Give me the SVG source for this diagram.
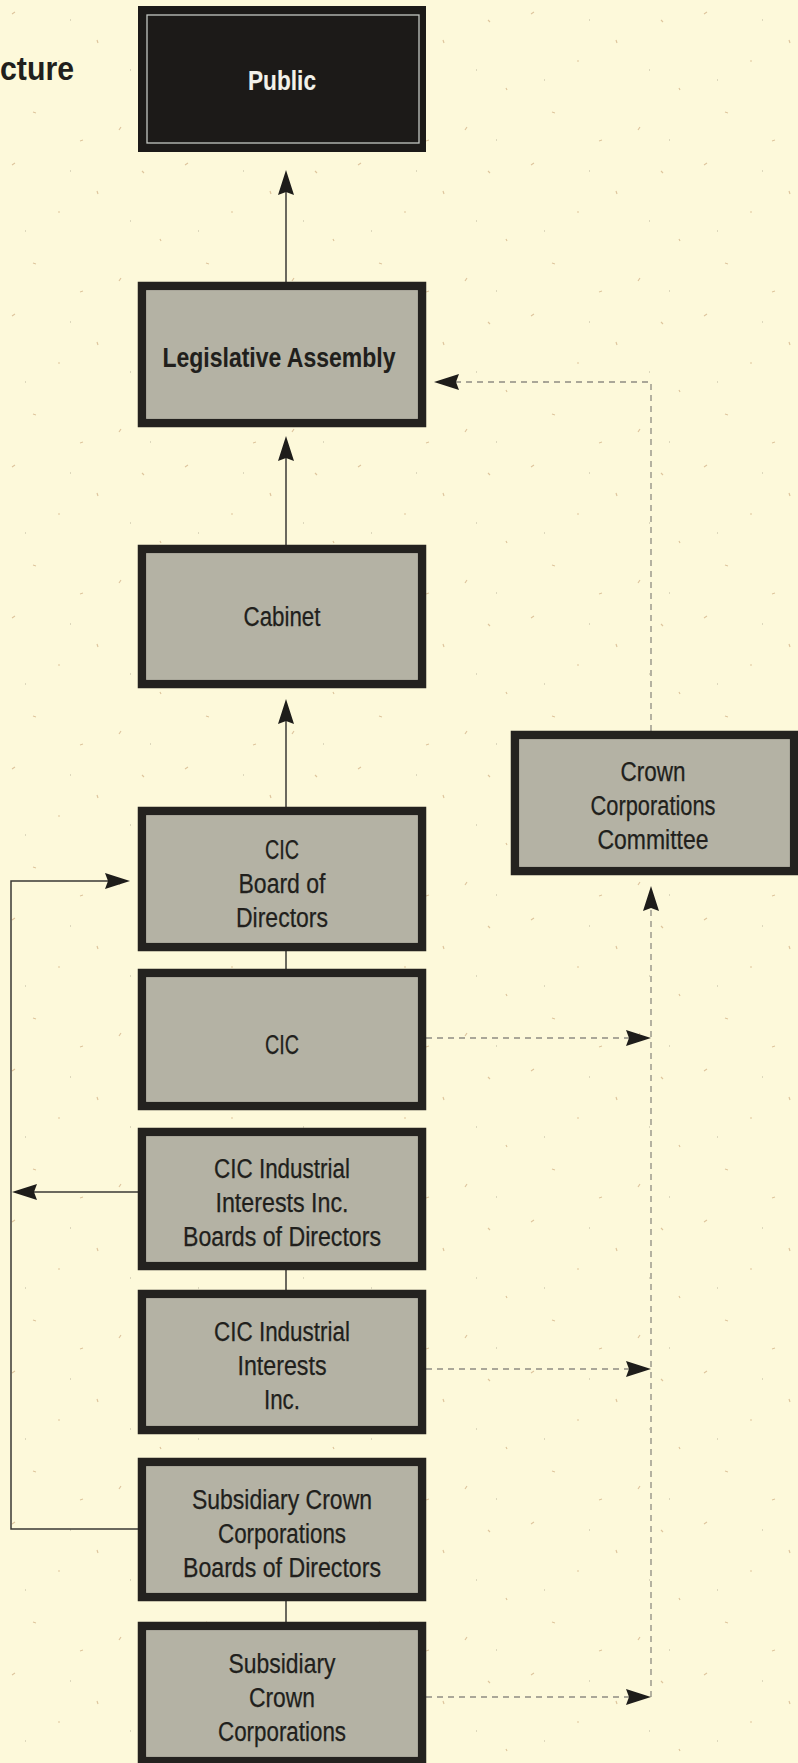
<svg xmlns="http://www.w3.org/2000/svg" width="798" height="1763" viewBox="0 0 798 1763">
  <defs>
    <style>
      .box { fill: #b4b2a4; stroke: #24221f; stroke-width: 8.5; }
      .edge { fill: none; stroke: #d6d4c6; stroke-width: 1; opacity: 0.35; }
      .lbl { font-family: "Liberation Sans Narrow", "Liberation Sans", Arial, sans-serif; font-size: 27px; fill: #211f1c; stroke: #211f1c; stroke-width: 0.25; text-anchor: middle; }
      .b { font-weight: bold; stroke-width: 0.1; }
      .solid { fill: none; stroke: #3a3935; stroke-width: 1.5; }
      .dash { fill: none; stroke: #8e8c82; stroke-width: 1.3; stroke-dasharray: 6 5; }
    </style>
    <marker id="arrow" viewBox="0 0 25 16" refX="21" refY="8" markerWidth="25" markerHeight="16" markerUnits="userSpaceOnUse" orient="auto">
      <path d="M0,0 L25,8 L0,16 L3,8 z" fill="#1e1d1a"/>
    </marker>
    <pattern id="paper" width="173" height="151" patternUnits="userSpaceOnUse">
      <path d="M12,14 l3,-2 M97,40 l1,3 M33,112 l3,1 M142,20 l2,2 M121,127 l-2,3 M58,61 l2,0 M160,88 l1,2 M80,141 l3,-1" stroke="#c9a274" stroke-width="1.2" opacity="0.6"/>
      <path d="M25,80 h1 M130,70 h1 M70,20 h1 M150,140 h1" stroke="#8f8a78" stroke-width="1.4" opacity="0.4"/>
    </pattern>
  </defs>

  <!-- paper -->
  <rect width="798" height="1763" fill="#fdf9da"/>
  <rect width="798" height="1763" fill="url(#paper)"/>

  <!-- heading, running in from the left margin -->
  <text x="74" y="80" text-anchor="end" font-family="'Liberation Sans Narrow','Liberation Sans',Arial,sans-serif" font-size="33" font-weight="bold" fill="#211f1c" textLength="74" lengthAdjust="spacingAndGlyphs">cture</text>

  <!-- connectors -->
  <g id="connectors">
    <path class="solid" d="M286,282 V174" marker-end="url(#arrow)"/>
    <path class="solid" d="M286,545 V440" marker-end="url(#arrow)"/>
    <path class="solid" d="M286,807 V703" marker-end="url(#arrow)"/>
    <path class="solid" d="M286,951 V969"/>
    <path class="solid" d="M286,1270 V1290"/>
    <path class="solid" d="M286,1601 V1622"/>
    <path class="solid" d="M138,1529 H11 V881 H126" marker-end="url(#arrow)"/>
    <path class="solid" d="M138,1192 H16" marker-end="url(#arrow)"/>

    <path class="dash" d="M651,731 V382 H438" marker-end="url(#arrow)"/>
    <path class="dash" d="M651,1697 V890" marker-end="url(#arrow)"/>
    <path class="dash" d="M426,1038 H647" marker-end="url(#arrow)"/>
    <path class="dash" d="M426,1369 H647" marker-end="url(#arrow)"/>
    <path class="dash" d="M426,1697 H647" marker-end="url(#arrow)"/>
  </g>

  <!-- nodes -->
  <g id="public">
    <rect x="138" y="6" width="288" height="146" fill="#1c1a18"/>
    <rect x="147" y="15" width="272" height="128" fill="none" stroke="#c4c7c2" stroke-width="1.3"/>
    <text class="lbl b" x="282" y="90" style="fill:#f2f1ea;stroke:#f2f1ea" textLength="68" lengthAdjust="spacingAndGlyphs">Public</text>
  </g>

  <g id="legislative-assembly">
    <rect class="box" x="142" y="286" width="280" height="137"/>
    <rect class="edge" x="146.5" y="290.5" width="271" height="128"/>
    <text class="lbl b" x="279" y="367" textLength="233" lengthAdjust="spacingAndGlyphs">Legislative Assembly</text>
  </g>

  <g id="cabinet">
    <rect class="box" x="142" y="549" width="280" height="135"/>
    <rect class="edge" x="146.5" y="553.5" width="271" height="126"/>
    <text class="lbl" x="282" y="626" textLength="77" lengthAdjust="spacingAndGlyphs">Cabinet</text>
  </g>

  <g id="crown-corporations-committee">
    <rect class="box" x="515" y="735" width="279" height="136"/>
    <rect class="edge" x="519.5" y="739.5" width="270" height="127"/>
    <text class="lbl" x="653" y="781" textLength="65" lengthAdjust="spacingAndGlyphs">Crown</text>
    <text class="lbl" x="653" y="815" textLength="125" lengthAdjust="spacingAndGlyphs">Corporations</text>
    <text class="lbl" x="653" y="849" textLength="111" lengthAdjust="spacingAndGlyphs">Committee</text>
  </g>

  <g id="cic-board">
    <rect class="box" x="142" y="811" width="280" height="136"/>
    <rect class="edge" x="146.5" y="815.5" width="271" height="127"/>
    <text class="lbl" x="282" y="859" textLength="34" lengthAdjust="spacingAndGlyphs">CIC</text>
    <text class="lbl" x="282" y="893" textLength="87" lengthAdjust="spacingAndGlyphs">Board of</text>
    <text class="lbl" x="282" y="927" textLength="92" lengthAdjust="spacingAndGlyphs">Directors</text>
  </g>

  <g id="cic">
    <rect class="box" x="142" y="973" width="280" height="133"/>
    <rect class="edge" x="146.5" y="977.5" width="271" height="124"/>
    <text class="lbl" x="282" y="1054" textLength="34" lengthAdjust="spacingAndGlyphs">CIC</text>
  </g>

  <g id="cic-industrial-boards">
    <rect class="box" x="142" y="1132" width="280" height="134"/>
    <rect class="edge" x="146.5" y="1136.5" width="271" height="125"/>
    <text class="lbl" x="282" y="1178" textLength="136" lengthAdjust="spacingAndGlyphs">CIC Industrial</text>
    <text class="lbl" x="282" y="1212" textLength="133" lengthAdjust="spacingAndGlyphs">Interests Inc.</text>
    <text class="lbl" x="282" y="1246" textLength="198" lengthAdjust="spacingAndGlyphs">Boards of Directors</text>
  </g>

  <g id="cic-industrial-interests">
    <rect class="box" x="142" y="1294" width="280" height="136"/>
    <rect class="edge" x="146.5" y="1298.5" width="271" height="127"/>
    <text class="lbl" x="282" y="1341" textLength="136" lengthAdjust="spacingAndGlyphs">CIC Industrial</text>
    <text class="lbl" x="282" y="1375" textLength="89" lengthAdjust="spacingAndGlyphs">Interests</text>
    <text class="lbl" x="282" y="1409" textLength="36" lengthAdjust="spacingAndGlyphs">Inc.</text>
  </g>

  <g id="subsidiary-boards">
    <rect class="box" x="142" y="1462" width="280" height="135"/>
    <rect class="edge" x="146.5" y="1466.5" width="271" height="126"/>
    <text class="lbl" x="282" y="1509" textLength="180" lengthAdjust="spacingAndGlyphs">Subsidiary Crown</text>
    <text class="lbl" x="282" y="1543" textLength="128" lengthAdjust="spacingAndGlyphs">Corporations</text>
    <text class="lbl" x="282" y="1577" textLength="198" lengthAdjust="spacingAndGlyphs">Boards of Directors</text>
  </g>

  <g id="subsidiary-crown-corporations">
    <rect class="box" x="142" y="1626" width="280" height="135"/>
    <rect class="edge" x="146.5" y="1630.5" width="271" height="126"/>
    <text class="lbl" x="282" y="1673" textLength="107" lengthAdjust="spacingAndGlyphs">Subsidiary</text>
    <text class="lbl" x="282" y="1707" textLength="66" lengthAdjust="spacingAndGlyphs">Crown</text>
    <text class="lbl" x="282" y="1741" textLength="128" lengthAdjust="spacingAndGlyphs">Corporations</text>
  </g>
</svg>
